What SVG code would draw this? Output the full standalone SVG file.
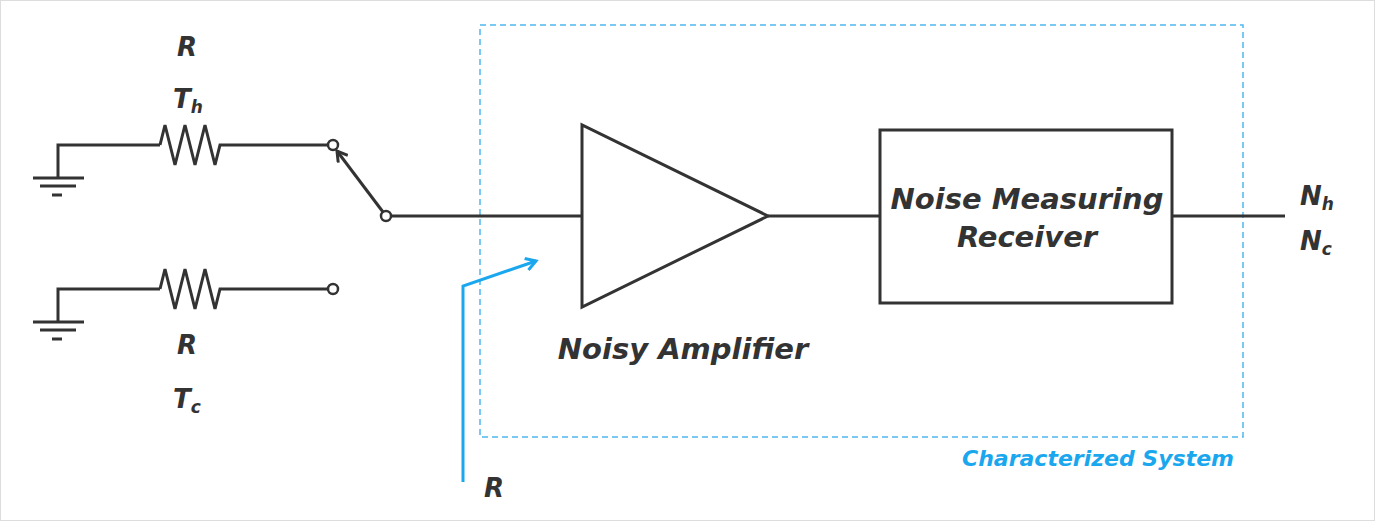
<svg xmlns="http://www.w3.org/2000/svg" width="1375" height="521" viewBox="0 0 1375 521">
<defs>
<style>
.w{fill:none;stroke:#333;stroke-width:3;stroke-linejoin:miter}
.t{font-family:"DejaVu Sans",Verdana,sans-serif;font-weight:bold;font-style:italic;fill:#333;font-size:26px}
.big{font-size:29px}
.b{fill:none;stroke:#1aa7ee;stroke-width:3}
</style>
<marker id="ah" markerWidth="14" markerHeight="14" refX="11" refY="7" orient="auto" markerUnits="userSpaceOnUse"><path d="M1,1 L11,7 L1,13" fill="none" stroke="#1aa7ee" stroke-width="3"/></marker>
<marker id="ak" markerWidth="14" markerHeight="14" refX="11" refY="7" orient="auto" markerUnits="userSpaceOnUse"><path d="M1,1 L11,7 L1,13" fill="none" stroke="#333" stroke-width="3"/></marker>
</defs>
<rect x="0.5" y="0.5" width="1374" height="520" fill="#fff" stroke="#ddd"/>
<rect x="480" y="25" width="763" height="412" fill="none" stroke="#4db8ee" stroke-width="1.5" stroke-dasharray="6,4"/>
<g id="gnd1"><path class="w" d="M58,178 V145 H160"/><path class="w" d="M33,178 H84 M40,186 H76 M52,195 H62"/></g>
<g id="r1"><path class="w" d="M160,145 L165,125 L175,165 L185,125 L195,165 L205,125 L215,165 L220,145 H328"/><circle cx="333" cy="145" r="5" fill="#fff" stroke="#333" stroke-width="2.5"/></g>
<g id="gnd2"><path class="w" d="M58,322 V289 H160"/><path class="w" d="M33,322 H84 M40,330 H76 M52,339 H62"/></g>
<g id="r2"><path class="w" d="M160,289 L165,269 L175,309 L185,269 L195,309 L205,269 L215,309 L220,289 H328"/><circle cx="333" cy="289" r="5" fill="#fff" stroke="#333" stroke-width="2.5"/></g>
<g id="switch"><path class="w" d="M383,212 L337,151" marker-end="url(#ak)"/><circle cx="386" cy="216" r="5" fill="#fff" stroke="#333" stroke-width="2.5"/></g>
<g id="connectors"><path class="w" d="M391,216 H582"/><path class="w" d="M768,216 H880"/><path class="w" d="M1172,216 H1285"/><path class="b" d="M463,482 V286 L536,261" marker-end="url(#ah)"/></g>
<g id="amp"><path class="w" d="M582,125 L582,307 L768,216 Z"/></g>
<g id="rx"><rect class="w" x="880" y="130" width="292" height="173"/><text class="t big" x="1027" y="209" text-anchor="middle">Noise Measuring</text><text class="t big" x="1027" y="247" text-anchor="middle">Receiver</text></g>
<text class="t" x="187" y="56" text-anchor="middle">R</text>
<text class="t" x="173" y="108">T<tspan font-size="17" dy="5">h</tspan></text>
<text class="t" x="187" y="354" text-anchor="middle">R</text>
<text class="t" x="173" y="408">T<tspan font-size="17" dy="5">c</tspan></text>
<text class="t big" x="683" y="359" text-anchor="middle">Noisy Amplifier</text>
<text class="t" x="1300" y="205">N<tspan font-size="17" dy="5">h</tspan></text>
<text class="t" x="1300" y="250">N<tspan font-size="17" dy="5">c</tspan></text>
<text class="t" x="484" y="497">R</text>
<text x="1098" y="466" text-anchor="middle" font-family="DejaVu Sans,Verdana,sans-serif" font-weight="bold" font-style="italic" font-size="22" fill="#1aa7ee">Characterized System</text>
</svg>
